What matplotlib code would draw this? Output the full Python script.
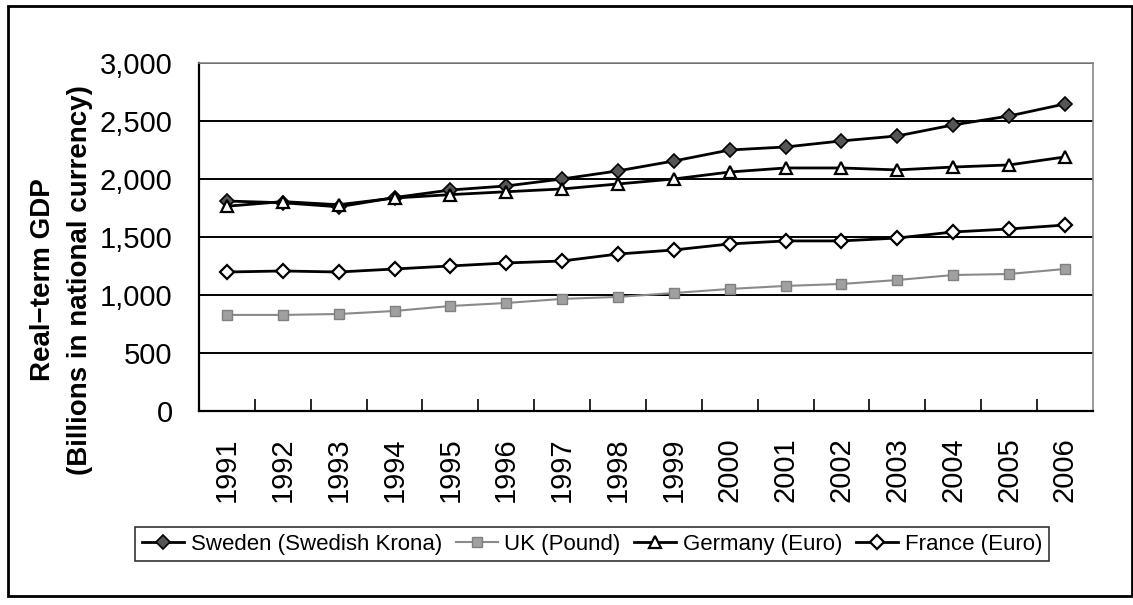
import numpy as np
import matplotlib.pyplot as plt
from matplotlib.patches import Rectangle
from matplotlib.ticker import FuncFormatter

plt.rcParams['font.family'] = ['Liberation Sans', 'DejaVu Sans']

years = ['1991', '1992', '1993', '1994', '1995', '1996', '1997', '1998',
         '1999', '2000', '2001', '2002', '2003', '2004', '2005', '2006']
sweden = [1810, 1795, 1760, 1840, 1905, 1940, 2000, 2070,
          2155, 2250, 2276, 2328, 2371, 2466, 2543, 2647]
uk = [828, 828, 836, 862, 905, 931, 966, 983,
      1017, 1052, 1078, 1095, 1129, 1172, 1181, 1224]
germany = [1765, 1805, 1778, 1836, 1865, 1890, 1914, 1957,
           2000, 2060, 2095, 2095, 2078, 2103, 2121, 2190]
france = [1198, 1207, 1198, 1224, 1250, 1276, 1293, 1353,
          1388, 1440, 1466, 1466, 1491, 1543, 1569, 1603]
series_names = ['Sweden (Swedish Krona)', 'UK (Pound)', 'Germany (Euro)', 'France (Euro)']
yticks = [0, 500, 1000, 1500, 2000, 2500, 3000]

fig = plt.figure(figsize=(11.33, 6.05), dpi=100)
ax = fig.add_axes([0.1756, 0.3207, 0.789, 0.5752])

x = np.arange(len(years))
ax.plot(x, sweden, color='black', lw=2, marker='D', ms=7,
        mfc='#555555', mec='black', mew=1.2, label=series_names[0], zorder=4)
ax.plot(x, uk, color='#8a8a8a', lw=1.5, marker='s', ms=7,
        mfc='#a0a0a0', mec='#808080', mew=1, label=series_names[1], zorder=3)
ax.plot(x, germany, color='black', lw=2, marker='^', ms=8,
        mfc='white', mec='black', mew=1.6, label=series_names[2], zorder=4)
ax.plot(x, france, color='black', lw=2, marker='D', ms=7,
        mfc='white', mec='black', mew=1.6, label=series_names[3], zorder=4)

ax.set_xlim(-0.5, len(years) - 0.5)
ax.set_ylim(0, 3000)
ax.set_yticks(yticks)
ax.yaxis.set_major_formatter(FuncFormatter(lambda v, p: f'{int(v):,}'))
ax.tick_params(axis='y', length=0, pad=19, labelsize=21)
ax.set_xticks(x)
ax.set_xticklabels(years, rotation=90, fontsize=21)
ax.tick_params(axis='x', which='major', length=0, pad=19)
ax.set_xticks(np.arange(0.5, len(years) - 1, 1), minor=True)
ax.tick_params(axis='x', which='minor', direction='in', length=9, width=1.2)

ax.grid(axis='y', color='black', lw=1.4)
ax.set_axisbelow(True)
ax.spines['left'].set_linewidth(1.6)
ax.spines['bottom'].set_linewidth(1.6)
for s in ['top', 'right']:
    ax.spines[s].set_color('#888888')
    ax.spines[s].set_linewidth(1.2)

# two-line y label, placed by hand like the original
fig.text(0.054, 1 - 280 / 605, 'Real\u2212term GDP\n(Billions in national currency)',
         rotation=90, ha='center', va='center', multialignment='center',
         fontsize=20, fontweight='bold', linespacing=1.55)

leg = fig.legend(loc='center', bbox_to_anchor=(0.5225, 0.1008), ncol=4,
                 fontsize=16, frameon=True, fancybox=False, edgecolor='black',
                 handlelength=1.9, handletextpad=0.3, columnspacing=0.6,
                 borderpad=0.3, borderaxespad=0)
leg.get_frame().set_linewidth(1.2)

fig.patches.append(Rectangle((8 / 1133, 9 / 605), 1124 / 1133, 590 / 605,
                             transform=fig.transFigure, fill=False,
                             edgecolor='black', lw=2))

plt.savefig('out.png', dpi=100)
